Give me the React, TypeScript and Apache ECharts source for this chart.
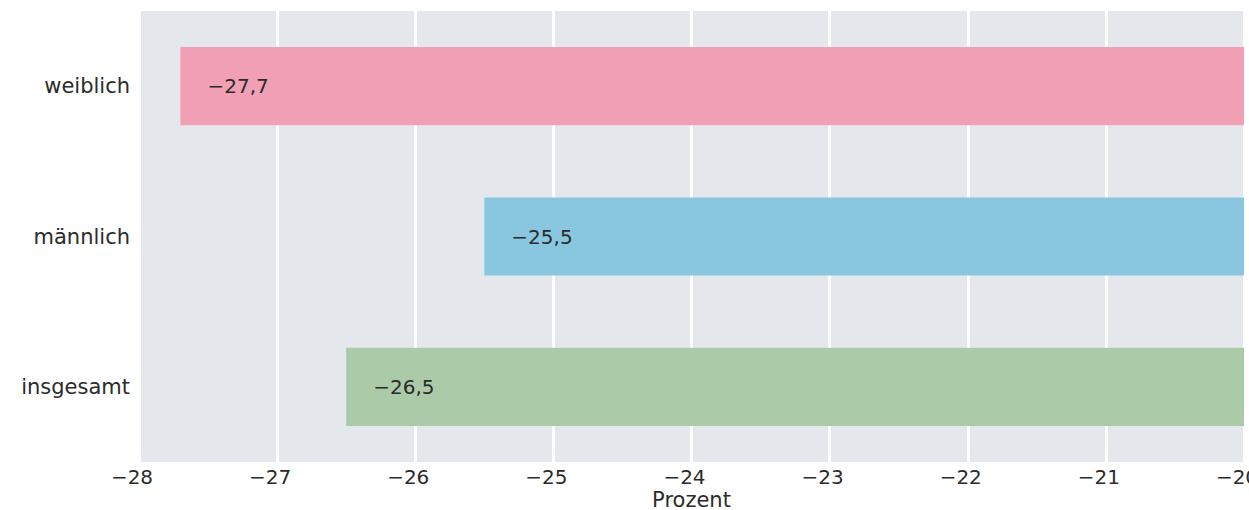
import React, { useEffect, useRef } from "react";
import * as echarts from "echarts";

const categories = ["insgesamt", "männlich", "weiblich"];
const values = [-26.5, -25.5, -27.7];
const barColors = ["#abcaa8", "#89c6df", "#f09fb5"];
const axisMin = -28;
const axisMax = -20;
const axisName = "Prozent";

const fmtMinus = (s: string) => s.replace("-", "\u2212");

export default function App() {
  const ref = useRef<HTMLDivElement>(null);
  useEffect(() => {
    if (!ref.current) return;
    const chart = echarts.init(ref.current, null, { renderer: "svg" });
    const font = "'DejaVu Sans', Verdana, sans-serif";
    chart.setOption({
      animation: false,
      textStyle: { fontFamily: font },
      grid: {
        left: 139,
        right: 5,
        top: 11,
        bottom: 48,
        backgroundColor: "#e4e8ec",
        show: true,
        borderWidth: 0,
        containLabel: false,
        outerBoundsMode: "none",
      },
      xAxis: {
        type: "value",
        min: axisMin,
        max: axisMax,
        interval: 1,
        name: axisName,
        nameLocation: "middle",
        nameGap: 27,
        nameMoveOverlap: false,
        nameTextStyle: { fontSize: 21, color: "#2b2b2b", fontFamily: font, lineHeight: 21 },
        axisLine: { show: false },
        axisTick: { show: false },
        axisLabel: {
          fontSize: 20,
          lineHeight: 20,
          color: "#2b2b2b",
          margin: 5,
          padding: [0, 14, 0, 0],
          fontFamily: font,
          formatter: (v: number) => fmtMinus(String(v)),
        },
        splitLine: { show: true, lineStyle: { color: "#ffffff", width: 3 } },
      },
      yAxis: {
        type: "category",
        data: categories,
        axisLine: { show: false },
        axisTick: { show: false },
        axisLabel: { fontSize: 21, color: "#2b2b2b", margin: 9, fontFamily: font },
        splitLine: { show: false },
      },
      series: [
        {
          type: "bar",
          barWidth: "52%",
          data: values.map((v, i) => ({ value: v, itemStyle: { color: barColors[i] } })),
          label: {
            show: true,
            position: "insideLeft",
            distance: 27,
            fontSize: 20,
            color: "#2b2b2b",
            fontFamily: font,
            formatter: (p: any) => fmtMinus(String(p.value).replace(".", ",")),
          },
        },
      ],
    });
    return () => chart.dispose();
  }, []);
  return <div ref={ref} style={{ position: "absolute", left: 0, top: 0, width: 1249, height: 510 }} />;
}
